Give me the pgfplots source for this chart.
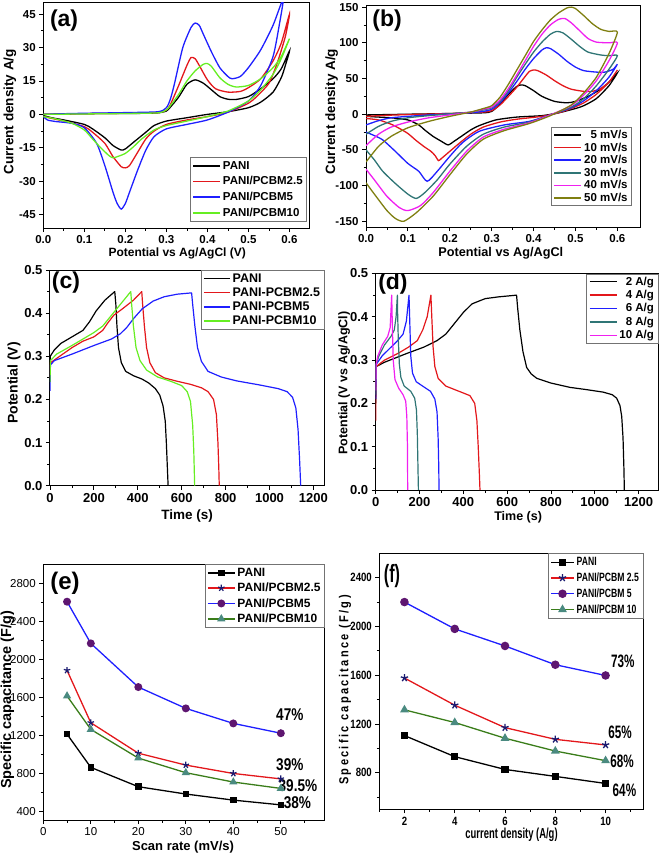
\documentclass[border=0pt]{standalone}
\usepackage{pgfplots}
\pgfplotsset{compat=1.18}
\usepackage{fontspec}
\setmainfont{Liberation Sans}
\newfontfamily\narrowfont[FakeStretch=0.8]{Liberation Sans}
\newfontfamily\legfnt[FakeStretch=0.72]{Liberation Sans}
\newfontfamily\condfont[FakeStretch=0.65]{Liberation Sans}
\newfontfamily\spacedfont[FakeStretch=0.85,LetterSpace=18]{Liberation Sans}
\definecolor{cvred}{HTML}{E3171B}
\definecolor{cvblue}{HTML}{1F1FFF}
\definecolor{cvgreen}{HTML}{66EE22}
\definecolor{cvteal}{HTML}{2F7575}
\definecolor{cvmag}{HTML}{F020F0}
\definecolor{cvolive}{HTML}{7F7F10}
\definecolor{navystar}{HTML}{1A1A70}
\definecolor{purplec}{HTML}{5E1670}
\definecolor{tealtri}{HTML}{4A8A80}
\definecolor{dgreen}{HTML}{3A7D1A}
\pgfplotsset{
  panel/.style={
    scale only axis, tick align=outside, tick pos=left,
    major tick length=4pt, minor tick length=2.5pt,
    axis line style={line width=1pt, black},
    major tick style={line width=0.9pt, black},
    minor tick style={line width=0.8pt, black},
    /pgf/number format/assume math mode=true,
    /pgf/number format/1000 sep={},
    scaled ticks=false,
    legend style={draw=black!55, line width=0.8pt, fill=white, inner xsep=2pt, inner ysep=1pt},
  },
  onedec/.style={/pgf/number format/.cd, fixed, fixed zerofill, precision=1},
}
\newcommand\legA{\bfseries\fontsize{11.5}{12}\selectfont}
\newcommand\legB{\bfseries\fontsize{11.5}{12}\selectfont}
\newcommand\legC{\bfseries\fontsize{12.5}{13}\selectfont}
\newcommand\legD{\bfseries\fontsize{11.5}{12}\selectfont}
\newcommand\legE{\bfseries\fontsize{12}{13}\selectfont}
\newcommand\legF{\legfnt\bfseries\fontsize{12}{13}\selectfont}
\begin{document}
\begin{tikzpicture}
\path[use as bounding box] (0,0) rectangle (660pt,-862pt);

% ---------------- (a) ----------------
\begin{axis}[panel, at={(43.3pt,-228pt)}, anchor=south west, width=266.7pt, height=225pt,
  xmin=0, xmax=0.65, ymin=-51, ymax=50,
  xtick={0,0.1,0.2,0.3,0.4,0.5,0.6}, ytick={-45,-30,-15,0,15,30,45},
  minor x tick num=1, minor y tick num=1,
  xticklabel style={onedec},
  tick label style={font=\bfseries\fontsize{11.5}{12}\selectfont},
  xlabel={Potential vs Ag/AgCl (V)}, ylabel={Current density A/g},
  xlabel style={at={(axis description cs:0.502,-0.112)}, anchor=center, font=\bfseries\fontsize{12}{13}\selectfont},
  ylabel style={at={(axis description cs:-0.125,0.517)}, anchor=center, font=\bfseries\fontsize{13.5}{14}\selectfont},
  legend cell align=left,
  legend style={at={(0.989,0.027)}, anchor=south east, font=\legA, nodes={font=\legA, inner ysep=2.9pt}},
  legend image code/.code={\draw[#1, line width=1.6pt] (0pt,0pt) -- (27pt,0pt);},
  every axis plot/.append style={line width=1.3pt, smooth, tension=0.4},
]
\addplot[black] coordinates {(0,0) (0.05,0.2) (0.1,0.3) (0.15,0.4) (0.2,0.4) (0.25,0.5) (0.28,0.7) (0.30,1.5) (0.31,3.3) (0.33,7.8) (0.35,13.5) (0.37,15.5) (0.39,14) (0.41,11) (0.43,8) (0.45,6.8) (0.47,6.7) (0.5,8) (0.53,11.5) (0.56,16) (0.58,20.5) (0.6,28.5)
 (0.59,22) (0.58,16.5) (0.56,10) (0.53,5.5) (0.5,3) (0.45,1.2) (0.4,0) (0.35,-1.5) (0.3,-3) (0.27,-5) (0.25,-8) (0.22,-12.5) (0.2,-15.5) (0.19,-16) (0.17,-14) (0.15,-10.5) (0.12,-6.5) (0.1,-4.5) (0.05,-2.5) (0.02,-1.5) (0,-0.5)};
\addlegendentry{PANI}
\addplot[cvred] coordinates {(0,0) (0.1,0.3) (0.2,0.5) (0.28,0.8) (0.3,2) (0.31,4.5) (0.33,13) (0.35,22) (0.36,25.5) (0.37,25) (0.38,22) (0.40,15.5) (0.42,11.5) (0.45,10) (0.48,10.3) (0.5,12) (0.53,16) (0.56,24) (0.58,32) (0.6,45)
 (0.59,35) (0.57,23) (0.55,14) (0.52,8) (0.5,5) (0.45,1) (0.4,-1) (0.35,-2.5) (0.3,-4.5) (0.27,-7.5) (0.25,-11) (0.23,-17) (0.21,-23) (0.2,-24) (0.19,-23.5) (0.17,-19) (0.15,-13) (0.12,-8) (0.1,-5.5) (0.05,-3) (0,-1)};
\addlegendentry{PANI/PCBM2.5}
\addplot[cvblue] coordinates {(0,0) (0.05,0.3) (0.1,0.5) (0.2,0.8) (0.28,1.2) (0.3,3) (0.31,7) (0.32,14) (0.34,30) (0.36,39) (0.37,41) (0.38,40) (0.39,36) (0.41,28) (0.43,21) (0.45,17) (0.46,16) (0.48,17) (0.5,21) (0.53,29) (0.56,40) (0.585,52)
 (0.575,40) (0.56,26) (0.53,13) (0.5,6) (0.45,1) (0.4,-2.5) (0.35,-4.5) (0.3,-6.5) (0.27,-10) (0.25,-16) (0.23,-25) (0.21,-35) (0.2,-40) (0.19,-42.5) (0.18,-40) (0.17,-35) (0.15,-23) (0.13,-13) (0.1,-6) (0.07,-4) (0.03,-3.2) (0.01,-2.5) (0,-1)};
\addlegendentry{PANI/PCBM5}
\addplot[cvgreen] coordinates {(0,0) (0.1,0.2) (0.2,0.4) (0.28,0.7) (0.3,2) (0.31,4) (0.33,9) (0.35,15) (0.37,19.5) (0.39,22.5) (0.40,22.8) (0.41,21.5) (0.43,16.5) (0.45,13.5) (0.47,12.3) (0.5,13) (0.53,16) (0.56,21) (0.58,26) (0.6,34)
 (0.58,25) (0.56,18) (0.53,11) (0.5,6) (0.45,1.5) (0.4,-1) (0.35,-3) (0.3,-5) (0.27,-7) (0.24,-11) (0.22,-14.5) (0.2,-17.5) (0.18,-19) (0.17,-19.5) (0.16,-18.5) (0.14,-15) (0.12,-11) (0.1,-7) (0.07,-4) (0.03,-2) (0,-1)};
\addlegendentry{PANI/PCBM10}
\node[font=\bfseries\fontsize{23}{24}\selectfont] at (axis description cs:0.078,0.92) {(a)};
\end{axis}

% ---------------- (b) ----------------
\begin{axis}[panel, at={(366pt,-227pt)}, anchor=south west, width=274pt, height=222pt,
  xmin=0, xmax=0.654, ymin=-158, ymax=153,
  xtick={0,0.1,0.2,0.3,0.4,0.5,0.6}, ytick={-150,-100,-50,0,50,100,150},
  minor x tick num=1, minor y tick num=1,
  xticklabel style={onedec},
  tick label style={font=\bfseries\fontsize{11.5}{12}\selectfont},
  xlabel={Potential vs Ag/AgCl}, ylabel={Current density A/g},
  xlabel style={at={(axis description cs:0.492,-0.118)}, anchor=center, font=\bfseries\fontsize{12.7}{13}\selectfont},
  ylabel style={at={(axis description cs:-0.125,0.52)}, anchor=center, font=\bfseries\fontsize{13.5}{14}\selectfont},
  legend cell align=right,
  legend style={at={(0.971,0.095)}, anchor=south east, font=\legB, nodes={font=\legB, inner ysep=1.4pt}},
  legend image code/.code={\draw[#1, line width=1.6pt] (0pt,0pt) -- (27pt,0pt);},
  every axis plot/.append style={line width=1.3pt, smooth, tension=0.4},
]
\addplot[black] coordinates {(0,-1) (0.05,-0.5) (0.1,0) (0.2,1) (0.28,2) (0.3,4) (0.32,14) (0.34,28) (0.36,39) (0.37,41) (0.38,40) (0.4,33) (0.42,25) (0.45,18) (0.48,16) (0.5,18) (0.53,25) (0.56,35) (0.58,45) (0.6,58)
 (0.58,40) (0.55,22) (0.52,12) (0.5,8) (0.46,2) (0.42,-2) (0.36,-4) (0.31,-8) (0.27,-16) (0.25,-22) (0.23,-30) (0.21,-38) (0.196,-43) (0.18,-38) (0.16,-31) (0.14,-22) (0.126,-15) (0.1,-8) (0.06,-5) (0.03,-4) (0,-3)};
\addlegendentry{5 mV/s}
\addplot[cvred] coordinates {(0,-3) (0.05,-1.5) (0.1,-0.5) (0.2,1) (0.28,3) (0.3,5) (0.32,13) (0.34,25) (0.36,38) (0.38,53) (0.39,60) (0.4,62) (0.41,61) (0.43,55) (0.45,47) (0.47,40) (0.49,35) (0.52,32) (0.54,32) (0.56,36) (0.58,45) (0.6,62)
 (0.58,45) (0.55,28) (0.52,16) (0.49,8) (0.46,2) (0.42,-3) (0.36,-7) (0.32,-11) (0.28,-18) (0.25,-28) (0.22,-42) (0.2,-52) (0.18,-62) (0.173,-65) (0.165,-58) (0.155,-52) (0.14,-46) (0.12,-37) (0.1,-27) (0.08,-20) (0.06,-14) (0.03,-8) (0,-6)};
\addlegendentry{10 mV/s}
\addplot[cvblue] coordinates {(0,-15) (0.03,-9) (0.06,-5) (0.1,-3) (0.15,-1) (0.2,0.5) (0.25,2) (0.28,4) (0.3,7) (0.32,16) (0.34,30) (0.36,46) (0.38,63) (0.4,78) (0.42,90) (0.43,93) (0.44,92) (0.46,84) (0.48,74) (0.5,66) (0.52,61) (0.55,59) (0.57,59) (0.59,63) (0.6,70)
 (0.58,52) (0.55,33) (0.52,19) (0.49,9) (0.44,-1) (0.39,-10) (0.33,-15) (0.27,-24) (0.23,-40) (0.2,-59) (0.17,-80) (0.146,-94) (0.126,-80) (0.1,-69) (0.07,-52) (0.04,-36) (0.02,-30) (0,-25)};
\addlegendentry{20 mV/s}
\addplot[cvteal] coordinates {(0,-28) (0.03,-17) (0.06,-10) (0.1,-5) (0.15,-2) (0.2,0.5) (0.25,3) (0.28,6) (0.3,9) (0.32,18) (0.34,33) (0.36,52) (0.38,70) (0.4,87) (0.42,101) (0.44,112) (0.455,116) (0.47,114) (0.49,105) (0.51,95) (0.53,87) (0.56,83) (0.58,82) (0.6,82)
 (0.58,63) (0.55,40) (0.52,22) (0.49,10) (0.44,-1) (0.39,-11) (0.33,-18) (0.28,-28) (0.24,-45) (0.2,-70) (0.17,-92) (0.14,-110) (0.12,-118) (0.1,-112) (0.07,-97) (0.04,-80) (0.02,-64) (0,-50)};
\addlegendentry{30 mV/s}
\addplot[cvmag] coordinates {(0,-44) (0.03,-28) (0.06,-18) (0.1,-11) (0.15,-5) (0.2,-1) (0.25,3) (0.28,7) (0.3,10) (0.32,20) (0.34,36) (0.36,55) (0.38,75) (0.4,95) (0.42,112) (0.44,125) (0.46,133) (0.475,134) (0.49,128) (0.51,117) (0.53,106) (0.55,101) (0.58,100) (0.6,100)
 (0.58,75) (0.55,47) (0.52,27) (0.49,12) (0.44,-1) (0.39,-12) (0.33,-21) (0.28,-32) (0.24,-52) (0.2,-80) (0.16,-110) (0.13,-128) (0.1,-135) (0.08,-131) (0.05,-115) (0.02,-92) (0,-77)};
\addlegendentry{40 mV/s}
\addplot[cvolive] coordinates {(0,-67) (0.03,-45) (0.06,-31) (0.1,-19) (0.15,-10) (0.2,-3) (0.25,3) (0.28,8) (0.3,12) (0.32,24) (0.34,42) (0.36,62) (0.38,82) (0.4,102) (0.42,118) (0.44,132) (0.46,142) (0.48,149) (0.49,150) (0.5,148) (0.52,138) (0.54,127) (0.56,119) (0.58,116) (0.6,115)
 (0.58,85) (0.55,52) (0.52,30) (0.49,13) (0.44,-2) (0.39,-13) (0.33,-23) (0.28,-35) (0.24,-56) (0.2,-85) (0.16,-115) (0.12,-138) (0.09,-150) (0.07,-146) (0.05,-135) (0.02,-112) (0,-96)};
\addlegendentry{50 mV/s}
\node[font=\bfseries\fontsize{23}{24}\selectfont] at (axis description cs:0.077,0.928) {(b)};
\end{axis}

% ---------------- (c) ----------------
\begin{axis}[panel, at={(50pt,-485.7pt)}, anchor=south west, width=274.4pt, height=215.7pt,
  xmin=0, xmax=1250, ymin=0, ymax=0.5,
  xtick={0,200,400,600,800,1000,1200}, ytick={0,0.1,0.2,0.3,0.4,0.5},
  minor x tick num=1, minor y tick num=1,
  yticklabel style={onedec},
  tick label style={font=\bfseries\fontsize{13}{14}\selectfont},
  xlabel={Time (s)}, ylabel={Potential (V)},
  xlabel style={at={(axis description cs:0.5,-0.14)}, anchor=center, font=\bfseries\fontsize{13.5}{14}\selectfont},
  ylabel style={at={(axis description cs:-0.131,0.476)}, anchor=center, font=\bfseries\fontsize{14}{15}\selectfont},
  legend cell align=left,
  legend style={at={(1,1)}, anchor=north east, font=\legC, nodes={font=\legC, inner ysep=2pt}},
  legend image code/.code={\draw[#1, line width=1.6pt] (0pt,0pt) -- (26pt,0pt);},
  every axis plot/.append style={line width=1.2pt, line join=round},
]
\addplot[black] coordinates {(0,0.25) (1,0.3) (20,0.315) (50,0.33) (100,0.345) (150,0.36) (180,0.38) (210,0.405) (250,0.43) (295,0.45)
 (300,0.42) (305,0.37) (312,0.32) (325,0.285) (345,0.265) (380,0.255) (420,0.247) (450,0.238) (480,0.225) (500,0.21) (515,0.185) (525,0.15) (530,0.1) (534,0.05) (538,0)};
\addlegendentry{PANI}
\addplot[cvred] coordinates {(0,0.25) (2,0.285) (30,0.295) (100,0.32) (150,0.335) (200,0.345) (240,0.36) (260,0.375) (290,0.395) (330,0.41) (380,0.43) (418,0.45)
 (422,0.42) (430,0.37) (440,0.32) (455,0.285) (480,0.262) (520,0.25) (580,0.242) (640,0.235) (690,0.227) (720,0.218) (745,0.2) (758,0.165) (765,0.1) (769,0.04) (771,0)};
\addlegendentry{PANI-PCBM2.5}
\addplot[cvblue] coordinates {(0,0.22) (2,0.28) (20,0.29) (100,0.305) (200,0.325) (280,0.34) (320,0.352) (350,0.367) (380,0.387) (420,0.41) (470,0.428) (520,0.438) (580,0.444) (645,0.447)
 (650,0.42) (660,0.37) (672,0.32) (690,0.288) (720,0.265) (780,0.252) (850,0.243) (950,0.234) (1040,0.225) (1080,0.218) (1105,0.205) (1120,0.18) (1130,0.13) (1137,0.06) (1142,0)};
\addlegendentry{PANI-PCBM5}
\addplot[cvgreen] coordinates {(0,0.24) (2,0.29) (30,0.305) (100,0.325) (150,0.34) (200,0.355) (240,0.37) (280,0.395) (320,0.42) (368,0.45)
 (372,0.42) (380,0.37) (392,0.32) (410,0.29) (440,0.268) (490,0.252) (550,0.242) (600,0.232) (625,0.218) (640,0.195) (650,0.14) (655,0.08) (659,0)};
\addlegendentry{PANI-PCBM10}
\node[font=\bfseries\fontsize{23}{24}\selectfont] at (axis description cs:0.058,0.94) {(c)};
\end{axis}

% ---------------- (d) ----------------
\begin{axis}[panel, at={(375.7pt,-490pt)}, anchor=south west, width=282.6pt, height=216.5pt,
  xmin=0, xmax=1290, ymin=0, ymax=0.5,
  xtick={0,200,400,600,800,1000,1200}, ytick={0,0.1,0.2,0.3,0.4,0.5},
  minor x tick num=1, minor y tick num=1,
  yticklabel style={onedec},
  tick label style={font=\bfseries\fontsize{13}{14}\selectfont},
  xlabel={Time (s)}, ylabel={Potential (V vs Ag/AgCl)},
  xlabel style={at={(axis description cs:0.504,-0.125)}, anchor=center, font=\bfseries\fontsize{12.5}{13}\selectfont},
  ylabel style={at={(axis description cs:-0.112,0.494)}, anchor=center, font=\bfseries\fontsize{12.5}{13}\selectfont},
  legend cell align=right,
  legend style={at={(1,1)}, anchor=north east, font=\legD, nodes={font=\legD, inner ysep=1.8pt}},
  legend image code/.code={\draw[#1, line width=1.6pt] (0pt,0pt) -- (27pt,0pt);},
  every axis plot/.append style={line width=1.2pt, line join=round},
]
\addplot[black] coordinates {(0,0.2) (2,0.285) (40,0.295) (140,0.315) (220,0.33) (280,0.345) (320,0.36) (360,0.385) (400,0.41) (440,0.43) (500,0.442) (560,0.446) (643,0.45)
 (648,0.42) (658,0.37) (672,0.32) (689,0.283) (710,0.268) (735,0.258) (800,0.247) (887,0.237) (960,0.232) (1039,0.226) (1080,0.22) (1100,0.212) (1115,0.195) (1123,0.17) (1129,0.12) (1133,0.05) (1135,0)};
\addlegendentry{2 A/g}
\addplot[cvred] coordinates {(0,0.16) (2,0.285) (40,0.3) (100,0.315) (150,0.33) (190,0.345) (215,0.37) (235,0.4) (252,0.45)
 (256,0.4) (262,0.33) (270,0.285) (285,0.258) (320,0.24) (380,0.228) (430,0.218) (452,0.2) (462,0.16) (468,0.1) (473,0.04) (476,0)};
\addlegendentry{4 A/g}
\addplot[cvblue] coordinates {(0,0.21) (2,0.29) (30,0.31) (60,0.325) (100,0.345) (125,0.36) (140,0.39) (152,0.45)
 (156,0.38) (160,0.31) (168,0.27) (185,0.25) (220,0.238) (250,0.228) (270,0.21) (280,0.18) (285,0.12) (288,0.05) (289,0)};
\addlegendentry{6 A/g}
\addplot[cvteal] coordinates {(0,0.22) (2,0.29) (15,0.31) (40,0.335) (70,0.355) (85,0.37) (93,0.4) (99,0.45)
 (100,0.41) (103,0.35) (108,0.29) (115,0.26) (130,0.24) (160,0.228) (178,0.212) (186,0.185) (190,0.13) (193,0.05) (195,0)};
\addlegendentry{8 A/g}
\addplot[cvmag] coordinates {(0,0.23) (2,0.29) (10,0.31) (30,0.335) (55,0.355) (66,0.375) (73,0.45)
 (76,0.38) (80,0.3) (88,0.255) (105,0.235) (125,0.22) (137,0.205) (142,0.17) (145,0.1) (146,0)};
\addlegendentry{10 A/g}
\node[font=\bfseries\fontsize{23}{24}\selectfont] at (axis description cs:0.061,0.955) {(d)};
\end{axis}

% ---------------- (e) ----------------
\begin{axis}[panel, at={(43.3pt,-820pt)}, anchor=south west, width=281.7pt, height=256pt,
  xmin=0, xmax=59.3, ymin=313, ymax=3003,
  xtick={0,10,20,30,40,50}, ytick={400,800,1200,1600,2000,2400,2800},
  minor xtick={5,15,25,35,45,55}, minor ytick={600,1000,1400,1800,2200,2600},
  tick label style={font=\fontsize{11.5}{12}\selectfont},
  xlabel={Scan rate (mV/s)}, ylabel={Specific capacitance (F/g)},
  xlabel style={at={(axis description cs:0.496,-0.105)}, anchor=center, font=\bfseries\fontsize{13}{14}\selectfont},
  ylabel style={at={(axis description cs:-0.127,0.469)}, anchor=center, font=\bfseries\fontsize{14.5}{15}\selectfont},
  legend cell align=left,
  legend style={at={(1,1)}, anchor=north east, font=\legE, nodes={font=\legE, inner ysep=2.6pt}},
  legend image code/.code={\draw[mark repeat=2,mark phase=2,#1] plot coordinates {(0pt,0pt) (13.5pt,0pt) (27pt,0pt)};},
  every axis plot/.append style={line width=1.3pt},
]
\addplot[black, mark=square*, mark size=2.6pt, mark options={fill=black, draw=black}] coordinates {(5,1215) (10,866) (20,663) (30,586) (40,522) (50,472)};
\addlegendentry{PANI}
\addplot[cvred, mark=star, mark size=3.4pt, mark options={draw=navystar, fill=navystar, line width=1.2pt}] coordinates {(5,1885) (10,1335) (20,1015) (30,890) (40,802) (50,745)};
\addlegendentry{PANI/PCBM2.5}
\addplot[cvblue, mark=*, mark size=3.3pt, mark options={fill=purplec, draw=purplec}] coordinates {(5,2607) (10,2169) (20,1710) (30,1486) (40,1328) (50,1225)};
\addlegendentry{PANI/PCBM5}
\addplot[dgreen, mark=triangle*, mark size=3.5pt, mark options={fill=tealtri, draw=tealtri}] coordinates {(5,1616) (10,1265) (20,964) (30,810) (40,712) (50,645)};
\addlegendentry{PANI/PCBM10}
\node[font=\bfseries\fontsize{24}{25}\selectfont] at (axis description cs:0.077,0.926) {(e)};
\node[font=\narrowfont\bfseries\fontsize{17}{18}\selectfont] at (axis cs:51.9,1416) {47\%};
\node[font=\narrowfont\bfseries\fontsize{17}{18}\selectfont] at (axis cs:51.9,892) {39\%};
\node[font=\narrowfont\bfseries\fontsize{17}{18}\selectfont] at (axis cs:53.6,670) {39.5\%};
\node[font=\narrowfont\bfseries\fontsize{17}{18}\selectfont] at (axis cs:53.5,492) {38\%};
\end{axis}

% ---------------- (f) ----------------
\begin{axis}[panel, at={(379.3pt,-809.3pt)}, anchor=south west, width=264pt, height=256pt,
  xmin=1, xmax=11.5, ymin=500, ymax=2600,
  xtick={2,4,6,8,10}, ytick={800,1200,1600,2000,2400},
  minor xtick={1,3,5,7,9,11}, minor ytick={600,1000,1400,1800,2200},
  tick label style={font=\narrowfont\bfseries\fontsize{12}{13}\selectfont},
  xlabel={current density (A/g)}, ylabel={Specific capacitance (F/g)},
  xlabel style={at={(axis description cs:0.501,-0.1)}, anchor=center, font=\condfont\bfseries\fontsize{14.5}{15}\selectfont},
  ylabel style={at={(axis description cs:-0.13,0.466)}, anchor=center, font=\spacedfont\bfseries\fontsize{13}{14}\selectfont},
  legend cell align=left,
  legend style={at={(1,1)}, anchor=north east, font=\legF, nodes={font=\legF, inner ysep=2.8pt}},
  legend image code/.code={\draw[mark repeat=2,mark phase=2,#1] plot coordinates {(0pt,0pt) (11.5pt,0pt) (23pt,0pt)};},
  every axis plot/.append style={line width=1.3pt},
]
\addplot[black, mark=square*, mark size=3pt, mark options={fill=black, draw=black}] coordinates {(2,1105) (4,932) (6,827) (8,770) (10,712)};
\addlegendentry{PANI}
\addplot[cvred, mark=star, mark size=3.8pt, mark options={draw=navystar, fill=navystar, line width=1.3pt}] coordinates {(2,1577) (4,1354) (6,1170) (8,1074) (10,1028)};
\addlegendentry{PANI/PCBM 2.5}
\addplot[cvblue, mark=*, mark size=3.6pt, mark options={fill=purplec, draw=purplec}] coordinates {(2,2200) (4,1980) (6,1840) (8,1686) (10,1598)};
\addlegendentry{PANI/PCBM 5}
\addplot[dgreen, mark=triangle*, mark size=3.8pt, mark options={fill=tealtri, draw=tealtri}] coordinates {(2,1316) (4,1212) (6,1083) (8,978) (10,899)};
\addlegendentry{PANI/PCBM 10}
\node[font=\condfont\bfseries\fontsize{25}{26}\selectfont] at (axis description cs:0.048,0.912) {(f)};
\node[font=\condfont\bfseries\fontsize{18}{19}\selectfont] at (axis cs:10.69,1714) {73\%};
\node[font=\condfont\bfseries\fontsize{18}{19}\selectfont] at (axis cs:10.58,1129) {65\%};
\node[font=\condfont\bfseries\fontsize{18}{19}\selectfont] at (axis cs:10.66,891) {68\%};
\node[font=\condfont\bfseries\fontsize{18}{19}\selectfont] at (axis cs:10.75,658) {64\%};
\end{axis}
\end{tikzpicture}
\end{document}
